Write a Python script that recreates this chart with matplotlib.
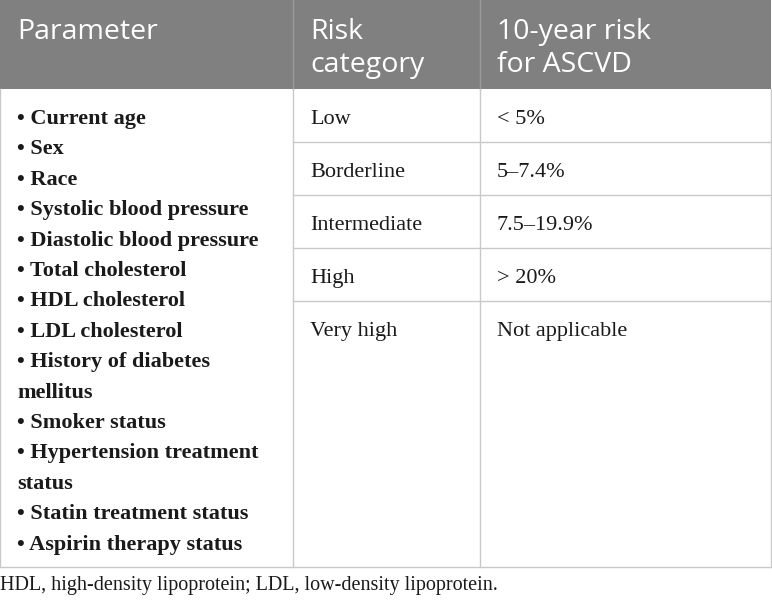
import matplotlib.pyplot as plt

# table contents
headers = ['Parameter', 'Risk\ncategory', '10-year risk\nfor ASCVD']
parameters = ['Current age', 'Sex', 'Race', 'Systolic blood pressure',
              'Diastolic blood pressure', 'Total cholesterol', 'HDL cholesterol',
              'LDL cholesterol', 'History of diabetes\nmellitus', 'Smoker status',
              'Hypertension treatment\nstatus', 'Statin treatment status',
              'Aspirin therapy status']
categories = ['Low', 'Borderline', 'Intermediate', 'High', 'Very high']
risks = ['< 5%', '5\u20137.4%', '7.5\u201319.9%', '> 20%', 'Not applicable']
footnote = 'HDL, high-density lipoprotein; LDL, low-density lipoprotein.'

W, H = 772, 601
fig = plt.figure(figsize=(W / 100, H / 100), dpi=100)
ax = fig.add_axes([0, 0, 1, 1])
ax.set_xlim(0, W)
ax.set_ylim(H, 0)
ax.axis('off')

col_x = [0, 293, 480, 771]
head_bot = 89
tab_bot = 567
row_h = 53
grid = '#c9c9c9'
ink = '#1a1a1a'
serif = 'Liberation Serif'

# header band
ax.fill_between([0, 771], 0, head_bot, color='#808080', lw=0)
for x in col_x[1:3]:
    ax.plot([x, x], [0, head_bot], color='#9a9a9a', lw=1)
hx = [17, 310, 497]
for x, h in zip(hx, headers):
    for j, ln in enumerate(h.split('\n')):
        ax.text(x, 39 + 33 * j, ln, color='white', fontsize=20.5, family='Open Sans',
                va='baseline', ha='left')

# body borders
ax.plot([0, 0], [head_bot, tab_bot], color=grid, lw=1)
ax.plot([771, 771], [head_bot, tab_bot], color=grid, lw=1)
ax.plot([0, 771], [tab_bot, tab_bot], color=grid, lw=1)
for x in col_x[1:3]:
    ax.plot([x, x], [head_bot, tab_bot], color=grid, lw=1)
for i in range(1, len(categories)):
    y = head_bot + i * row_h
    ax.plot([293, 771], [y, y], color=grid, lw=1)

# risk columns
for i, (c, r) in enumerate(zip(categories, risks)):
    y = 124 + i * row_h
    ax.text(310, y, c, color=ink, fontsize=16, family=serif, va='baseline')
    ax.text(497, y, r, color=ink, fontsize=16, family=serif, va='baseline')

# parameter list
y = 124
step = 30.4
for p in parameters:
    for j, ln in enumerate(p.split('\n')):
        txt = '\u2022 ' + ln if j == 0 else ln
        ax.text(17, y, txt, color=ink, fontsize=16, family=serif,
                weight='bold', va='baseline')
        y += step

ax.text(0, 590, footnote, color=ink, fontsize=14.5, family=serif, va='baseline')

fig.savefig('out.png', dpi=100)
